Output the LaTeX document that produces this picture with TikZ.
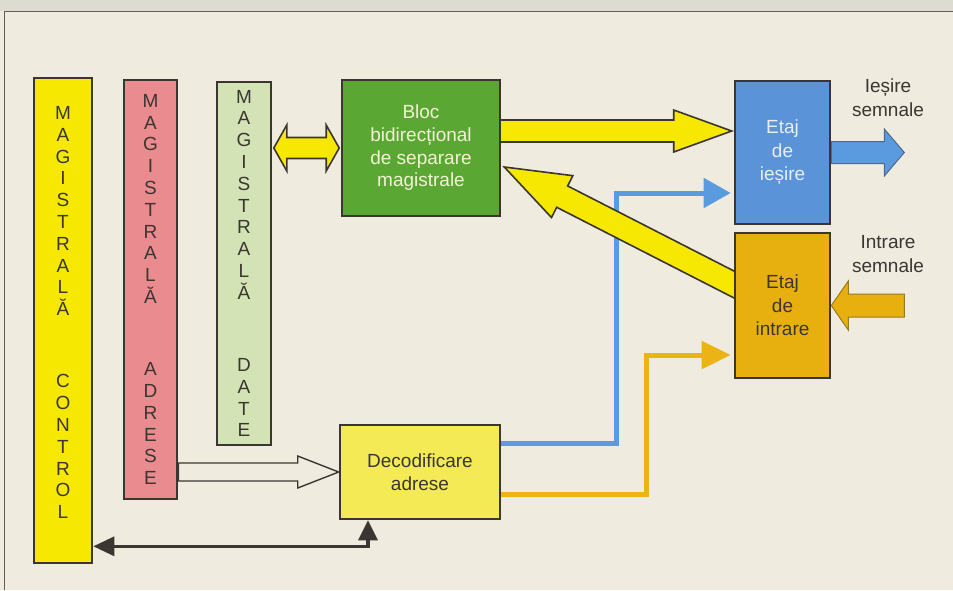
\documentclass[tikz,border=0pt]{standalone}
\usepackage{fontspec}
\setmainfont{Liberation Sans}
\usetikzlibrary{calc,arrows.meta,backgrounds}
\definecolor{paper}{HTML}{EFEBDF}
\definecolor{ink}{HTML}{3B3631}
\definecolor{busyellow}{HTML}{F6E800}
\definecolor{buspink}{HTML}{E98B8F}
\definecolor{busgreen}{HTML}{D4E3B6}
\definecolor{blocgreen}{HTML}{5AA833}
\definecolor{blocwhite}{HTML}{F3F1D6}
\definecolor{stageblue}{HTML}{5B93D9}
\definecolor{stagewhite}{HTML}{E9EEF4}
\definecolor{stageorange}{HTML}{E8B00E}
\definecolor{decyellow}{HTML}{F3EA55}
\definecolor{wireblue}{HTML}{5A9BE0}
\definecolor{wireorange}{HTML}{EBB414}
\newcommand{\FatArrow}[6][]{
  \path (#2) coordinate (fa-s);
  \path (#3) coordinate (fa-e);
  \path ($(fa-e)!#6!(fa-s)$) coordinate (fa-c);
  \draw[#1]($(fa-s)!#4!90:(fa-e)$)--($(fa-c)!#4!-90:(fa-s)$)--($(fa-c)!#5!-90:(fa-s)$)--(fa-e)
    --($(fa-c)!#5!90:(fa-s)$)--($(fa-c)!#4!90:(fa-s)$)--($(fa-s)!#4!-90:(fa-e)$)--cycle;
}
\newcommand{\TwinArrow}[6][]{
  \path (#2) coordinate (ta-s);
  \path (#3) coordinate (ta-e);
  \path ($(ta-s)!#6!(ta-e)$) coordinate (ta-a) ($(ta-e)!#6!(ta-s)$) coordinate (ta-b);
  \draw[#1](ta-s)--($(ta-a)!#5!90:(ta-e)$)--($(ta-a)!#4!90:(ta-e)$)--($(ta-b)!#4!-90:(ta-s)$)--($(ta-b)!#5!-90:(ta-s)$)--(ta-e)
    --($(ta-b)!#5!90:(ta-s)$)--($(ta-b)!#4!90:(ta-s)$)--($(ta-a)!#4!-90:(ta-e)$)--($(ta-a)!#5!-90:(ta-e)$)--cycle;
}
\begin{document}
\begin{tikzpicture}[x=1pt,y=-1pt,inner sep=0pt,
  box/.style={draw=ink,line width=2.6pt,align=center,text=ink,font=\fontsize{19}{23.5}\selectfont},
  busbox/.style={box,font=\fontsize{19}{21.8}\selectfont},
  fatyellow/.style={fill=busyellow,draw=ink,line width=1.6pt},
  bluearrow/.style={fill=wireblue,draw=stageblue!55!ink,line width=1pt},
  orangearrow/.style={fill=stageorange,draw=stageorange!55!ink,line width=1pt},
  hollow/.style={fill=paper,draw=ink,line width=1.4pt},
  wire/.style={line width=5pt},
  ctlwire/.style={draw=ink,line width=3.2pt},
  lbl/.style={align=center,text=ink,font=\fontsize{19}{24}\selectfont}]
  \useasboundingbox (0,0) rectangle (953,590);
  \begin{scope}[on background layer]
    \fill[paper] (0,0) rectangle (953,590);
    \fill[paper!85!gray] (0,0) rectangle (953,11);
    \draw[ink!80,line width=1pt] (953,11)--(4,11)--(4,590);
  \end{scope}
  \node[busbox,fill=busyellow,minimum width=58pt,minimum height=485pt] (ctl) at (63,320.5)
    {M\\A\\G\\I\\S\\T\\R\\A\\L\\Ă\\[50.5pt]C\\O\\N\\T\\R\\O\\L\\[-6pt]\mbox{}};
  \node[busbox,fill=buspink,minimum width=53pt,minimum height=419pt] (adr) at (150.5,289.5)
    {M\\A\\G\\I\\S\\T\\R\\A\\L\\Ă\\[50.5pt]A\\D\\R\\E\\S\\E};
  \node[busbox,fill=busgreen,minimum width=54pt,minimum height=363pt] (dat) at (244,263.5)
    {M\\A\\G\\I\\S\\T\\R\\A\\L\\Ă\\[50.5pt]D\\A\\T\\E};
  \node[box,fill=blocgreen,text=blocwhite,minimum width=158pt,minimum height=136pt,font=\fontsize{19}{22.7}\selectfont] (bloc) at (421,148)
    {Bloc\\bidirecțional\\de separare\\magistrale};
  \node[box,fill=stageblue,text=stagewhite,minimum width=95pt,minimum height=143pt] (ies) at (782.5,152.5) {Etaj\\de\\ieșire};
  \node[box,fill=stageorange,minimum width=95pt,minimum height=145pt] (intr) at (782.5,305.5) {Etaj\\de\\intrare};
  \node[box,fill=decyellow,minimum width=160pt,minimum height=94pt,font=\fontsize{19}{23}\selectfont] (dec) at (420,472) {Decodificare\\adrese};
  \node[lbl] (lies) at (888,98) {Ieșire\\semnale};
  \node[lbl] (lintr) at (888,254.5) {Intrare\\semnale};
  \begin{scope}[on background layer]
    \coordinate (bl) at ($(dec.east)+(0,-29)$);
    \coordinate (br) at ($(ies.west)+(-3,40.5)$);
    \draw[wire,draw=wireblue,-{Triangle[length=27pt,width=29pt]}] (bl)--++(115,0)|-(br);
    \coordinate (ol) at ($(dec.east)+(0,22)$);
    \coordinate (or) at ($(intr.west)+(-3,49.5)$);
    \draw[wire,draw=wireorange,-{Triangle[length=29pt,width=27pt]}] (ol)--++(145,0)|-(or);
    \coordinate (cl) at ($(dec.south)+(-52,26)$);
    \draw[ctlwire,{Triangle[length=20pt,width=19pt]}-{Triangle[length=21pt,width=19pt]}] (dec.south -| cl)--(cl)--(ctl.east |- cl);
    \FatArrow[hollow]{adr.east |- dec.west}{dec.west}{9pt}{16pt}{41pt}
    \coordinate (d1) at ($(dat.east |- bloc.west)+(1.5,0)$);
    \coordinate (d2) at ($(bloc.west)+(-1.5,0)$);
    \TwinArrow[fatyellow]{d1}{d2}{10.5pt}{23pt}{13pt}
    \coordinate (b1) at ($(bloc.east)+(-6,-17)$);
    \coordinate (b2) at ($(ies.west |- b1)+(-2,0)$);
    \FatArrow[fatyellow]{b1}{b2}{11pt}{21pt}{58pt}
    \coordinate (i1) at ($(intr.west)+(13,-14.5)$);
    \coordinate (i2) at ($(bloc.east)+(3,19)$);
    \FatArrow[fatyellow]{i1}{i2}{12pt}{23.5pt}{65pt}
    \coordinate (o1) at ($(ies.east)+(73,0)$);
    \FatArrow[bluearrow]{ies.east}{o1}{11pt}{23.5pt}{20pt}
    \coordinate (n1) at ($(intr.east)+(73,0)$);
    \FatArrow[orangearrow]{n1}{intr.east}{11.5pt}{24.5pt}{17pt}
  \end{scope}
\end{tikzpicture}
\end{document}
